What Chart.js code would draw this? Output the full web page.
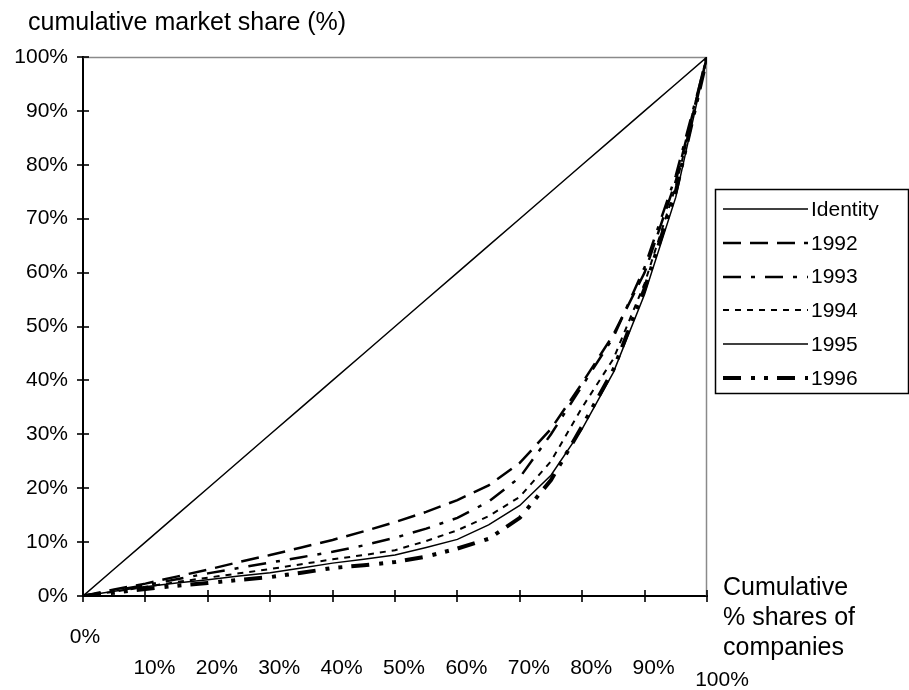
<!DOCTYPE html>
<html>
<head>
<meta charset="utf-8">
<script src="https://cdn.jsdelivr.net/npm/chart.js@4.4.1/dist/chart.umd.min.js"></script>
<style>
  html, body { margin: 0; padding: 0; background: #ffffff; }
  #wrap { position: relative; width: 909px; height: 690px; }
</style>
</head>
<body>
<div id="wrap"><canvas id="lorenz" width="909" height="690"></canvas></div>
<script>
// Cumulative % share of companies (x) and cumulative market share (y), in %
const companyShares = [0, 5, 10, 15, 20, 25, 30, 35, 40, 45, 50, 55, 60, 65, 70, 75, 80, 85, 90, 95, 100];
const identityShare = [0, 5, 10, 15, 20, 25, 30, 35, 40, 45, 50, 55, 60, 65, 70, 75, 80, 85, 90, 95, 100];
const share1992 = [0, 1.2, 2.3, 3.6, 4.9, 6.3, 7.6, 9.0, 10.4, 12.0, 13.7, 15.6, 17.8, 20.5, 24.7, 31.0, 39.5, 48.5, 60.0, 77.0, 100];
const share1993 = [0, 1.0, 2.0, 3.1, 4.2, 5.2, 6.2, 7.2, 8.2, 9.4, 10.8, 12.5, 14.5, 17.5, 22.0, 30.0, 39.0, 48.0, 61.0, 78.0, 100];
const share1994 = [0, 0.8, 1.7, 2.6, 3.4, 4.2, 5.0, 5.9, 6.8, 7.6, 8.5, 10.2, 12.2, 14.8, 18.4, 25.0, 35.0, 44.0, 58.0, 76.0, 100];
const share1995 = [0, 0.9, 1.7, 2.4, 3.0, 3.7, 4.3, 5.2, 6.1, 6.8, 7.6, 9.0, 10.5, 13.2, 16.8, 22.4, 31.0, 41.5, 56.0, 74.0, 100];
const share1996 = [0, 0.6, 1.3, 1.9, 2.4, 3.0, 3.5, 4.3, 5.2, 5.7, 6.3, 7.3, 8.8, 10.6, 14.5, 21.5, 31.5, 42.0, 57.0, 75.0, 100];

const seriesNames = ['Identity', '1992', '1993', '1994', '1995', '1996'];
const xTickValues = [0, 10, 20, 30, 40, 50, 60, 70, 80, 90, 100];
const xTickLabels = ['0%', '10%', '20%', '30%', '40%', '50%', '60%', '70%', '80%', '90%', '100%'];
const yAxisTitle = 'cumulative market share (%)';
const xAxisTitle = ['Cumulative', '% shares of', 'companies'];

const FONT = "'Liberation Sans', Arial, Helvetica, sans-serif";

function points(values) {
  return companyShares.map((x, i) => ({ x: x, y: values[i] }));
}

const styles = [
  { width: 1.5, dash: [] },
  { width: 2.5, dash: [18, 9] },
  { width: 2.5, dash: [18, 10, 4, 10] },
  { width: 2, dash: [6, 6] },
  { width: 1.5, dash: [] },
  { width: 4, dash: [18, 10, 4, 9, 4, 9] }
];
const seriesValues = [identityShare, share1992, share1993, share1994, share1995, share1996];

const datasets = seriesValues.map((vals, i) => ({
  label: seriesNames[i],
  data: points(vals),
  borderColor: '#000000',
  backgroundColor: '#000000',
  borderWidth: styles[i].width,
  borderDash: styles[i].dash,
  pointRadius: 0,
  pointHoverRadius: 0,
  tension: 0,
  fill: false
}));

// Frame, crossing tick marks, axis labels, titles and the boxed legend
const decorations = {
  id: 'decorations',
  beforeDatasetsDraw(chart) {
    const { ctx, chartArea: a } = chart;
    ctx.save();
    ctx.strokeStyle = '#8a8a8a';
    ctx.lineWidth = 1.5;
    ctx.beginPath();
    ctx.moveTo(a.left, a.top + 0.5);
    ctx.lineTo(a.right - 0.5, a.top + 0.5);
    ctx.lineTo(a.right - 0.5, a.bottom);
    ctx.stroke();
    ctx.restore();
  },
  afterDraw(chart) {
    const { ctx, chartArea: a, scales } = chart;
    const xs = scales.x, ys = scales.y;
    ctx.save();
    ctx.strokeStyle = '#000000';
    ctx.lineWidth = 1.6;
    // x ticks
    xTickValues.forEach(v => {
      const px = Math.round(xs.getPixelForValue(v));
      ctx.beginPath();
      ctx.moveTo(px, a.bottom - 6);
      ctx.lineTo(px, a.bottom + 6);
      ctx.stroke();
    });
    // y ticks
    ys.ticks.forEach(t => {
      const py = Math.round(ys.getPixelForValue(t.value));
      ctx.beginPath();
      ctx.moveTo(a.left - 6, py);
      ctx.lineTo(a.left + 6, py);
      ctx.stroke();
    });

    // x tick labels, staggered below the axis
    ctx.fillStyle = '#000000';
    ctx.font = '21px ' + FONT;
    ctx.textAlign = 'center';
    ctx.textBaseline = 'middle';
    xTickValues.forEach((v, i) => {
      const px = xs.getPixelForValue(v);
      let dx = 9, dy = 72;
      if (i === 0) { dx = 2; dy = 41; }
      if (i === xTickValues.length - 1) { dx = 15; dy = 84; }
      ctx.fillText(xTickLabels[i], px + dx, a.bottom + dy);
    });

    // axis titles
    ctx.font = '25px ' + FONT;
    ctx.textAlign = 'left';
    ctx.fillText(yAxisTitle, 28, 23);
    xAxisTitle.forEach((line, i) => {
      ctx.fillText(line, a.right + 16, a.bottom - 8 + i * 30);
    });

    // legend box
    const lx = 715, ly = 189, lw = 193, lh = 204;
    ctx.lineWidth = 1.5;
    ctx.strokeRect(lx + 0.5, ly + 0.5, lw, lh);
    ctx.font = '21px ' + FONT;
    chart.data.datasets.forEach((ds, i) => {
      const cy = 209 + i * 33.8;
      ctx.save();
      ctx.lineWidth = ds.borderWidth;
      ctx.setLineDash(ds.borderDash);
      ctx.beginPath();
      ctx.moveTo(723, Math.round(cy));
      ctx.lineTo(808, Math.round(cy));
      ctx.stroke();
      ctx.restore();
      ctx.fillText(ds.label, 811, cy + 1);
    });
    ctx.restore();
  }
};

new Chart(document.getElementById('lorenz'), {
  type: 'line',
  data: { datasets: datasets },
  plugins: [decorations],
  options: {
    responsive: false,
    animation: false,
    devicePixelRatio: 1,
    layout: { padding: { top: 57, right: 202, left: 0, bottom: 0 } },
    plugins: {
      legend: { display: false },
      tooltip: { enabled: false },
      title: { display: false }
    },
    scales: {
      x: {
        type: 'linear',
        min: 0,
        max: 100,
        grid: { display: false, drawTicks: false },
        border: { display: true, color: '#000000', width: 2 },
        ticks: { display: false, stepSize: 10 },
        afterFit(scale) { scale.height = 94; }
      },
      y: {
        type: 'linear',
        min: 0,
        max: 100,
        grid: { display: false, drawTicks: false },
        border: { display: true, color: '#000000', width: 2 },
        ticks: {
          stepSize: 10,
          padding: 15,
          color: '#000000',
          font: { family: FONT, size: 21 },
          callback: v => v + '%'
        },
        afterFit(scale) { scale.width = 83; }
      }
    }
  }
});
</script>
</body>
</html>
